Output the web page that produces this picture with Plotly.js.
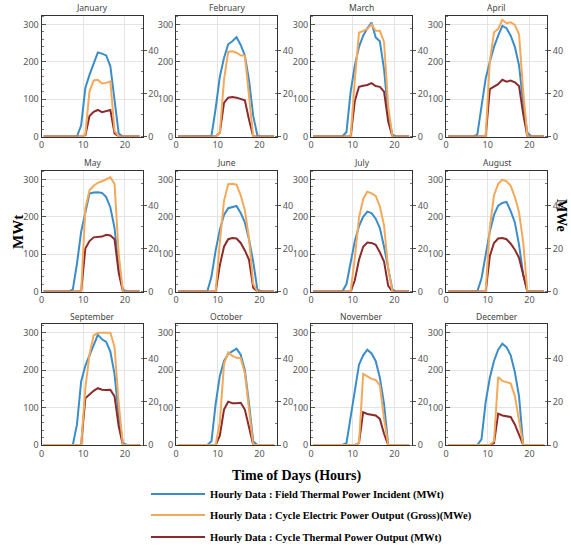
<!DOCTYPE html>
<html><head><meta charset="utf-8">
<script src="https://cdn.plot.ly/plotly-3.0.1.min.js"></script>
<style>html,body{margin:0;padding:0;background:#fff}#chart{width:571px;height:548px}</style>
</head><body><div id="chart"></div>
<script>
const months = ["January","February","March","April","May","June","July","August","September","October","November","December"];
const hours = [0.5,1.5,2.5,3.5,4.5,5.5,6.5,7.5,8.5,9.5,10.5,11.5,12.5,13.5,14.5,15.5,16.5,17.5,18.5,19.5,20.5,21.5,22.5,23.5];

// Hourly Data : Field Thermal Power Incident (MWt)
const fieldThermal = [
  [0,0,0,0,0,0,0,0,0,30,130,165,195,225,222,217,188,100,8,0,0,0,0,0],
  [0,0,0,0,0,0,0,0,2,75,160,210,247,255,266,245,217,150,55,3,0,0,0,0],
  [0,0,0,0,0,0,0,0,12,120,190,240,270,290,305,265,255,180,60,5,0,0,0,0],
  [0,0,0,0,0,0,0,5,80,155,200,240,270,296,290,270,240,190,90,10,0,0,0,0],
  [0,0,0,0,0,0,0,5,75,160,215,262,265,266,264,253,225,170,60,5,0,0,0,0],
  [0,0,0,0,0,0,0,0,40,110,165,205,223,225,229,210,185,140,80,5,0,0,0,0],
  [0,0,0,0,0,0,0,0,20,80,135,175,200,214,210,195,170,120,60,5,0,0,0,0],
  [0,0,0,0,0,0,0,0,35,100,160,205,230,237,240,215,185,125,45,0,0,0,0,0],
  [0,0,0,0,0,0,0,0,55,170,212,240,270,295,283,276,250,190,80,5,0,0,0,0],
  [0,0,0,0,0,0,0,0,10,110,185,225,244,252,258,242,200,110,10,0,0,0,0,0],
  [0,0,0,0,0,0,0,0,5,75,150,215,240,255,245,225,180,110,0,0,0,0,0,0],
  [0,0,0,0,0,0,0,0,15,115,180,225,255,271,262,240,195,130,0,0,0,0,0,0]
];
// Hourly Data : Cycle Electric Power Output (Gross)(MWe)
const cycleElectric = [
  [0,0,0,0,0,0,0,0,0,0,0.9,21,26,26.3,24.6,24.9,25.6,2.6,0,0,0,0,0,0],
  [0,0,0,0,0,0,0,0,0,0,1.8,26.3,39.3,39.6,38.9,37.7,37.5,17.5,0,0,0,0,0,0],
  [0,0,0,0,0,0,0,0,0,0,26.3,48.2,49.1,50,52.1,49.1,49.1,43.9,14,0,0,0,0,0],
  [0,0,0,0,0,0,0,0,0,0,35,48.4,50,54.2,52.6,53,51.8,47.4,21,0,0,0,0,0],
  [0,0,0,0,0,0,0,0,0,0,38.6,47,49.1,50.5,51.2,52.1,53,50,17.5,0,0,0,0,0],
  [0,0,0,0,0,0,0,0,0,0,22.8,42.1,49.8,50,49.6,44.7,37.7,24.6,3.5,0,0,0,0,0],
  [0,0,0,0,0,0,0,0,0,0,15.8,34.2,43,46.3,45.6,44.4,39.5,30.7,10.5,0,0,0,0,0],
  [0,0,0,0,0,0,0,0,0,0,29.8,44.7,50,51.9,51.2,49.1,43.9,36.8,22.8,0,0,0,0,0],
  [0,0,0,0,0,0,0,0,0,0,26.3,42.1,50.9,52.1,52.1,52.1,52.1,45.6,19.3,0,0,0,0,0],
  [0,0,0,0,0,0,0,0,0,0,10.5,37.7,43,41.4,40.5,40.4,33.3,17.5,0,0,0,0,0,0],
  [0,0,0,0,0,0,0,0,0,0,0,0.9,33,31.9,30.7,30.2,27.7,12.3,0,0,0,0,0,0],
  [0,0,0,0,0,0,0,0,0,0,0,1.8,31.6,29.8,29.3,28.6,22.8,10.5,0,0,0,0,0,0]
];
// Hourly Data : Cycle Thermal Power Output (MWt)
const cycleThermal = [
  [0,0,0,0,0,0,0,0,0,0,3,55,66,71,65,67,71,8,0,0,0,0,0,0],
  [0,0,0,0,0,0,0,0,0,0,10,90,104,106,104,100,97,45,0,0,0,0,0,0],
  [0,0,0,0,0,0,0,0,0,0,95,133,136,138,143,135,133,120,40,0,0,0,0,0],
  [0,0,0,0,0,0,0,0,0,0,127,133,140,152,147,150,145,135,60,0,0,0,0,0],
  [0,0,0,0,0,0,0,0,0,0,115,135,145,146,147,152,150,140,50,0,0,0,0,0],
  [0,0,0,0,0,0,0,0,0,0,70,120,140,143,142,130,110,85,10,0,0,0,0,0],
  [0,0,0,0,0,0,0,0,0,0,30,85,120,131,130,125,105,80,15,0,0,0,0,0],
  [0,0,0,0,0,0,0,0,0,0,95,130,142,143,140,128,112,90,45,0,0,0,0,0],
  [0,0,0,0,0,0,0,0,0,0,125,135,145,152,148,147,148,130,50,0,0,0,0,0],
  [0,0,0,0,0,0,0,0,0,0,25,95,116,112,112,113,95,50,0,0,0,0,0,0],
  [0,0,0,0,0,0,0,0,0,0,0,5,88,83,80,79,70,30,0,0,0,0,0,0],
  [0,0,0,0,0,0,0,0,0,0,0,5,84,79,78,75,55,25,0,0,0,0,0,0]
];
const seriesNames = [
  "Hourly Data : Field Thermal Power Incident (MWt)",
  "Hourly Data : Cycle Electric Power Output (Gross)(MWe)",
  "Hourly Data : Cycle Thermal Power Output (MWt)"
];
const colors = ["#3a8dc9", "#f4a95a", "#8c2b2b"];

const W = 571, H = 548;
const colLeft = [41.5, 176, 311, 446];
const colW = 101;
const rowTop = [15.5, 170.5, 324];
const rowH = 121;

const tickFont = {family: "Noto Sans, Open Sans, sans-serif", size: 9, color: "#555"};
const serif = "Liberation Serif, DejaVu Serif, serif";

const data = [];
const layout = {
  width: W, height: H,
  margin: {l: 0, r: 0, t: 0, b: 0, autoexpand: false},
  paper_bgcolor: "#fff", plot_bgcolor: "#fff",
  showlegend: true,
  annotations: [],
  font: {family: "Noto Sans, sans-serif"}
};

for (let k = 0; k < 12; k++) {
  const r = Math.floor(k / 4), c = k % 4;
  const xa = "xaxis" + (k + 1), ya = "yaxis" + (k + 1), ya2 = "yaxis" + (k + 13);
  const xs = "x" + (k + 1), ys = "y" + (k + 1), ys2 = "y" + (k + 13);
  const x0 = colLeft[c] / W, x1 = (colLeft[c] + colW) / W;
  const y1 = 1 - rowTop[r] / H, y0 = 1 - (rowTop[r] + rowH) / H;
  layout[xa] = {
    domain: [x0, x1], anchor: ys, range: [0, 24.2], dtick: 10, tick0: 0,
    showgrid: true, gridcolor: "#e4e4e4", gridwidth: 1,
    showline: true, linecolor: "#333", linewidth: 1, mirror: true,
    zeroline: false, ticks: "", tickfont: tickFont, fixedrange: true
  };
  layout[ya] = {
    domain: [y0, y1], anchor: xs, range: [0, 324], dtick: 100, tick0: 0,
    showgrid: true, gridcolor: "#e4e4e4",
    showline: true, linecolor: "#333", linewidth: 1,
    zeroline: false, ticks: "inside", ticklen: 4, tickcolor: "#555",
    minor: {dtick: 20, ticks: "inside", ticklen: 2, tickcolor: "#777", showgrid: false},
    tickfont: tickFont, fixedrange: true
  };
  layout[ya2] = {
    overlaying: ys, side: "right", anchor: xs, range: [0, 56.2], dtick: 20, tick0: 0,
    showgrid: false, showline: true, linecolor: "#333", linewidth: 1,
    zeroline: false, ticks: "outside", ticklen: 3, tickcolor: "#555",
    minor: {dtick: 10, ticks: "inside", ticklen: 2, tickcolor: "#777", showgrid: false},
    tickfont: tickFont, fixedrange: true
  };
  layout.annotations.push({
    text: months[k], xref: "paper", yref: "paper",
    x: (x0 + x1) / 2, y: 1 - (rowTop[r] - 8) / H, xanchor: "center", yanchor: "middle",
    showarrow: false, font: {family: "Noto Sans, sans-serif", size: 8.5, color: "#444"}
  });
  data.push({
    x: hours, y: fieldThermal[k], xaxis: xs, yaxis: ys, type: "scatter", mode: "lines",
    name: seriesNames[0], line: {color: colors[0], width: 2},
    legend: "legend", showlegend: k === 0
  });
  data.push({
    x: hours, y: cycleThermal[k], xaxis: xs, yaxis: ys, type: "scatter", mode: "lines",
    name: seriesNames[2], line: {color: colors[2], width: 2},
    legend: "legend3", showlegend: k === 0
  });
  data.push({
    x: hours, y: cycleElectric[k], xaxis: xs, yaxis: ys2, type: "scatter", mode: "lines",
    name: seriesNames[1], line: {color: colors[1], width: 2},
    legend: "legend2", showlegend: k === 0
  });
}

const legFont = {family: serif, size: 10.5, color: "#000", weight: "bold"};
const legBase = {xanchor: "left", yanchor: "middle", x: 146 / W, font: legFont,
  bgcolor: "rgba(0,0,0,0)", itemwidth: 54, borderwidth: 0};
layout.legend = Object.assign({}, legBase, {y: 1 - 494 / H});
layout.legend2 = Object.assign({}, legBase, {y: 1 - 515 / H});
layout.legend3 = Object.assign({}, legBase, {y: 1 - 537 / H});

layout.annotations.push(
  {text: "<b>MWt</b>", xref: "paper", yref: "paper", x: 18 / W, y: 1 - 232 / H,
   textangle: -90, showarrow: false, xanchor: "center", yanchor: "middle",
   font: {family: serif, size: 15, color: "#000"}},
  {text: "<b>MWe</b>", xref: "paper", yref: "paper", x: 562 / W, y: 1 - 215 / H,
   textangle: 90, showarrow: false, xanchor: "center", yanchor: "middle",
   font: {family: serif, size: 14, color: "#000"}},
  {text: "<b>Time of Days (Hours)</b>", xref: "paper", yref: "paper", x: 297 / W, y: 1 - 476 / H,
   showarrow: false, xanchor: "center", yanchor: "middle",
   font: {family: serif, size: 14, color: "#000"}}
);

Plotly.newPlot("chart", data, layout, {displayModeBar: false, staticPlot: true});
</script>
</body></html>
